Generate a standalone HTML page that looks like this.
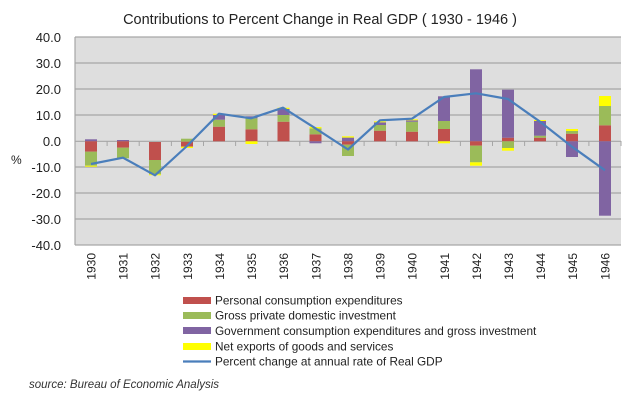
<!DOCTYPE html>
<html><head><meta charset="utf-8"><style>
body{margin:0;background:#fff;}
svg{display:block;font-family:"Liberation Sans",sans-serif;}
</style></head><body>
<svg width="640" height="400" viewBox="0 0 640 400">
<text x="320" y="24" text-anchor="middle" font-size="14.5" fill="#222">Contributions to Percent Change in Real GDP ( 1930 - 1946 )</text>
<rect x="75" y="37" width="546" height="208" fill="#dedede"/>
<g stroke="#a6a6a6" stroke-width="1.2">
<line x1="75" y1="37" x2="621" y2="37"/><line x1="75" y1="63" x2="621" y2="63"/><line x1="75" y1="89" x2="621" y2="89"/><line x1="75" y1="115" x2="621" y2="115"/><line x1="75" y1="167" x2="621" y2="167"/><line x1="75" y1="193" x2="621" y2="193"/><line x1="75" y1="219" x2="621" y2="219"/><line x1="75" y1="245" x2="621" y2="245"/>
<line x1="75" y1="37" x2="75" y2="245"/>
<line x1="75" y1="141.3" x2="621" y2="141.3"/>
</g>
<g stroke="#a6a6a6" stroke-width="1">
<line x1="107.1" y1="141" x2="107.1" y2="146"/><line x1="139.2" y1="141" x2="139.2" y2="146"/><line x1="171.4" y1="141" x2="171.4" y2="146"/><line x1="203.5" y1="141" x2="203.5" y2="146"/><line x1="235.6" y1="141" x2="235.6" y2="146"/><line x1="267.7" y1="141" x2="267.7" y2="146"/><line x1="299.8" y1="141" x2="299.8" y2="146"/><line x1="331.9" y1="141" x2="331.9" y2="146"/><line x1="364.1" y1="141" x2="364.1" y2="146"/><line x1="396.2" y1="141" x2="396.2" y2="146"/><line x1="428.3" y1="141" x2="428.3" y2="146"/><line x1="460.4" y1="141" x2="460.4" y2="146"/><line x1="492.5" y1="141" x2="492.5" y2="146"/><line x1="524.6" y1="141" x2="524.6" y2="146"/><line x1="556.8" y1="141" x2="556.8" y2="146"/><line x1="588.9" y1="141" x2="588.9" y2="146"/><line x1="621" y1="141" x2="621" y2="146"/>
</g>
<g font-size="13" fill="#222" text-anchor="end">
<text x="61" y="42">40.0</text><text x="61" y="68">30.0</text><text x="61" y="94">20.0</text><text x="61" y="120">10.0</text><text x="61" y="146">0.0</text><text x="61" y="172">-10.0</text><text x="61" y="198">-20.0</text><text x="61" y="224">-30.0</text><text x="61" y="250">-40.0</text>
</g>
<text x="11" y="164" font-size="12" fill="#222">%</text>
<g id="bars">
<g transform="translate(85,0)">
<rect y="139.3" height="2" width="12" fill="#8064a2"/><rect y="141.3" height="10.4" width="12" fill="#c0504d"/><rect y="151.7" height="14" width="12" fill="#9bbb59"/><rect y="165.7" height="1" width="12" fill="#ff0"/></g>
<g transform="translate(117,0)">
<rect y="140" height="1.3" width="12" fill="#8064a2"/><rect y="141.3" height="6.4" width="12" fill="#c0504d"/><rect y="147.7" height="10.6" width="12" fill="#9bbb59"/></g>
<g transform="translate(149,0)">
<rect y="142" height="18" width="12" fill="#c0504d"/><rect y="160" height="14.3" width="12" fill="#9bbb59"/><rect y="174.3" height="1" width="12" fill="#ff0"/></g>
<g transform="translate(181,0)">
<rect y="138.7" height="3" width="12" fill="#9bbb59"/><rect y="141.7" height="5" width="12" fill="#c0504d"/><rect y="146.7" height="1.3" width="12" fill="#ff0"/></g>
<g transform="translate(213,0)">
<rect y="126.7" height="14.6" width="12" fill="#c0504d"/><rect y="119.7" height="7" width="12" fill="#9bbb59"/><rect y="115" height="4.7" width="12" fill="#8064a2"/><rect y="113.7" height="1.3" width="12" fill="#ff0"/></g>
<g transform="translate(245.5,0)">
<rect y="129.3" height="12" width="12" fill="#c0504d"/><rect y="118.3" height="11" width="12" fill="#9bbb59"/><rect y="116.3" height="2" width="12" fill="#8064a2"/><rect y="141.3" height="2.7" width="12" fill="#ff0"/></g>
<g transform="translate(277.5,0)">
<rect y="121.7" height="19.6" width="12" fill="#c0504d"/><rect y="115" height="6.7" width="12" fill="#9bbb59"/><rect y="109" height="6" width="12" fill="#8064a2"/><rect y="107.7" height="1.3" width="12" fill="#ff0"/></g>
<g transform="translate(309.5,0)">
<rect y="134.3" height="7" width="12" fill="#c0504d"/><rect y="128.3" height="6" width="12" fill="#9bbb59"/><rect y="127" height="1.3" width="12" fill="#ff0"/><rect y="141.3" height="2" width="12" fill="#8064a2"/></g>
<g transform="translate(342,0)">
<rect y="136.3" height="1.4" width="12" fill="#ff0"/><rect y="137.7" height="3.6" width="12" fill="#8064a2"/><rect y="141.3" height="3.4" width="12" fill="#c0504d"/><rect y="144.7" height="11.3" width="12" fill="#9bbb59"/></g>
<g transform="translate(374,0)">
<rect y="130.7" height="10.6" width="12" fill="#c0504d"/><rect y="125" height="5.7" width="12" fill="#9bbb59"/><rect y="122.3" height="2.7" width="12" fill="#8064a2"/><rect y="121.3" height="1" width="12" fill="#ff0"/></g>
<g transform="translate(406,0)">
<rect y="131.7" height="9.6" width="12" fill="#c0504d"/><rect y="121.7" height="10" width="12" fill="#9bbb59"/><rect y="120.3" height="1.4" width="12" fill="#8064a2"/><rect y="119.3" height="1" width="12" fill="#ff0"/></g>
<g transform="translate(438,0)">
<rect y="129" height="12.3" width="12" fill="#c0504d"/><rect y="121" height="8" width="12" fill="#9bbb59"/><rect y="96.3" height="24.7" width="12" fill="#8064a2"/><rect y="141.3" height="2" width="12" fill="#ff0"/></g>
<g transform="translate(470,0)">
<rect y="69.3" height="72" width="12" fill="#8064a2"/><rect y="141.3" height="4.4" width="12" fill="#c0504d"/><rect y="145.7" height="16.6" width="12" fill="#9bbb59"/><rect y="162.3" height="3.4" width="12" fill="#ff0"/></g>
<g transform="translate(502,0)">
<rect y="137.7" height="3.6" width="12" fill="#c0504d"/><rect y="89.7" height="48" width="12" fill="#8064a2"/><rect y="141.3" height="6.7" width="12" fill="#9bbb59"/><rect y="148" height="2.7" width="12" fill="#ff0"/></g>
<g transform="translate(534,0)">
<rect y="137.7" height="3.6" width="12" fill="#c0504d"/><rect y="135.7" height="2" width="12" fill="#9bbb59"/><rect y="121" height="14.7" width="12" fill="#8064a2"/><rect y="120" height="1" width="12" fill="#ff0"/></g>
<g transform="translate(566,0)">
<rect y="133.7" height="7.6" width="12" fill="#c0504d"/><rect y="131" height="2.7" width="12" fill="#9bbb59"/><rect y="129" height="2" width="12" fill="#ff0"/><rect y="141.3" height="15.7" width="12" fill="#8064a2"/></g>
<g transform="translate(599,0)">
<rect y="125.3" height="16" width="12" fill="#c0504d"/><rect y="106" height="19.3" width="12" fill="#9bbb59"/><rect y="96" height="10" width="12" fill="#ff0"/><rect y="141.3" height="74.4" width="12" fill="#8064a2"/></g>
</g>
<polyline fill="none" stroke="#4a7ebb" stroke-width="2.2" stroke-linejoin="round" points="91,164 123,157.7 155,175.3 187,146 219,113.7 251,118.3 283,107.7 316,128.7 348,149.5 380,120.3 412,118.7 444,97 476,93.3 508,99 540,121.7 572,146.7 605,170.3"/>
<g font-size="12" fill="#222" text-anchor="end">
<text transform="translate(95.5,253) rotate(-90)">1930</text>
<text transform="translate(127.6,253) rotate(-90)">1931</text>
<text transform="translate(159.7,253) rotate(-90)">1932</text>
<text transform="translate(191.8,253) rotate(-90)">1933</text>
<text transform="translate(224,253) rotate(-90)">1934</text>
<text transform="translate(256,253) rotate(-90)">1935</text>
<text transform="translate(288.2,253) rotate(-90)">1936</text>
<text transform="translate(320.3,253) rotate(-90)">1937</text>
<text transform="translate(352.4,253) rotate(-90)">1938</text>
<text transform="translate(384.5,253) rotate(-90)">1939</text>
<text transform="translate(416.6,253) rotate(-90)">1940</text>
<text transform="translate(448.8,253) rotate(-90)">1941</text>
<text transform="translate(480.9,253) rotate(-90)">1942</text>
<text transform="translate(513,253) rotate(-90)">1943</text>
<text transform="translate(545.1,253) rotate(-90)">1944</text>
<text transform="translate(577.2,253) rotate(-90)">1945</text>
<text transform="translate(609.4,253) rotate(-90)">1946</text>
</g>
<rect x="183" y="297" width="28" height="7" fill="#c0504d"/>
<rect x="183" y="312" width="28" height="7" fill="#9bbb59"/>
<rect x="183" y="327" width="28" height="7" fill="#8064a2"/>
<rect x="183" y="343" width="28" height="7" fill="#ff0"/>
<line x1="183" y1="361.5" x2="211" y2="361.5" stroke="#4a7ebb" stroke-width="2.2"/>
<g font-size="11.8" fill="#222">
<text x="215" y="304.5">Personal consumption expenditures</text>
<text x="215" y="319.5">Gross private domestic investment</text>
<text x="215" y="335">Government consumption expenditures and gross investment</text>
<text x="215" y="350.5">Net exports of goods and services</text>
<text x="215" y="365.5">Percent change at annual rate of Real GDP</text>
</g>
<text x="29" y="388" font-size="11.5" font-style="italic" fill="#333">source: Bureau of Economic Analysis</text>
</svg>
</body></html>
